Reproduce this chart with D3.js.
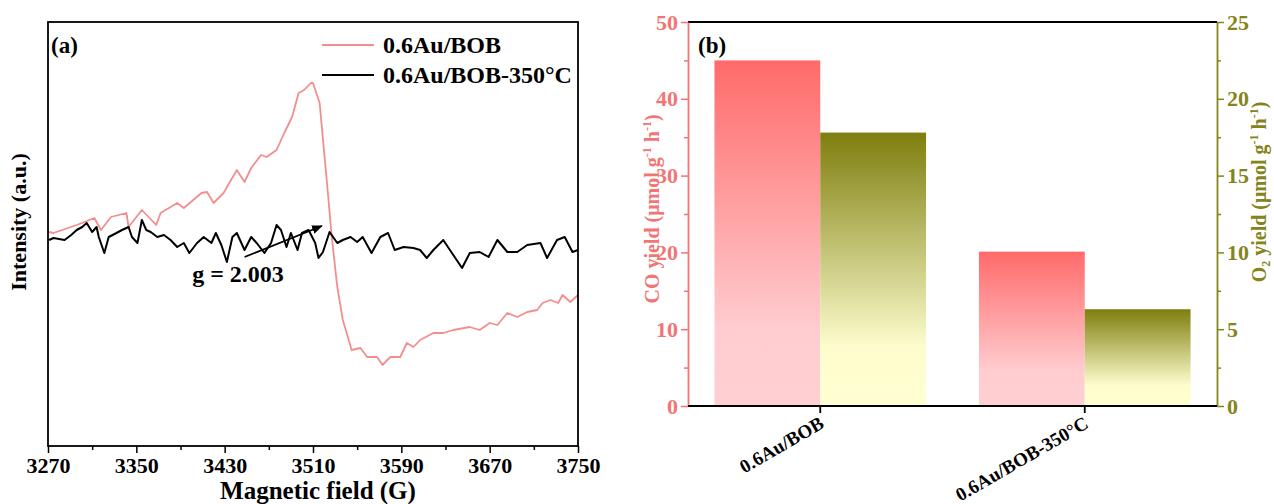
<!DOCTYPE html>
<html>
<head>
<meta charset="utf-8">
<script src="https://cdn.jsdelivr.net/npm/d3@7"></script>
<style>
  html, body { margin: 0; padding: 0; background: #fff; }
  svg text { font-family: "Liberation Serif", "Times New Roman", serif; font-weight: bold; }
</style>
</head>
<body>
<svg id="chart" width="1274" height="504"></svg>
<script>
// ---------------- Data: panel (a) EPR spectra ----------------
const fieldTicks = [3270, 3350, 3430, 3510, 3590, 3670, 3750];
const seriesNamesA = ["0.6Au/BOB", "0.6Au/BOB-350°C"];

const bobField = [3271, 3275, 3296, 3312, 3318, 3327, 3341, 3343, 3355, 3368, 3372, 3387, 3393, 3409, 3414, 3420,
  3429, 3441, 3448, 3454, 3463, 3468, 3477, 3484, 3491, 3497, 3502, 3508, 3510, 3516, 3523, 3527, 3532, 3537,
  3545, 3553, 3559, 3568, 3573, 3580, 3589, 3595, 3601, 3607, 3619, 3628, 3637, 3652, 3661, 3670, 3677, 3686,
  3695, 3704, 3713, 3718, 3725, 3732, 3736, 3743, 3750];
const bobIntensity = [4, 3, 11, 18, 6, 19, 23, 9, 26, 11, 23, 33, 28, 43, 44, 33,
  43, 66, 54, 68, 81, 79, 86, 103, 119, 143, 146, 153, 153, 133, 49, -1, -51, -84,
  -114, -112, -121, -121, -129, -121, -121, -107, -111, -104, -97, -97, -94, -91, -94, -87, -89, -77,
  -81, -76, -74, -67, -64, -67, -59, -66, -59];

const bob350Field = [3271, 3275, 3285, 3291, 3296, 3301, 3305, 3310, 3314, 3316, 3321, 3325, 3332, 3337, 3343,
  3346, 3351, 3355, 3359, 3363, 3369, 3375, 3381, 3387, 3393, 3398, 3405, 3411, 3418, 3422, 3427, 3432, 3437,
  3441, 3448, 3454, 3459, 3466, 3472, 3477, 3481, 3486, 3490, 3496, 3500, 3506, 3512, 3515, 3519, 3525, 3532,
  3537, 3544, 3550, 3555, 3563, 3571, 3578, 3584, 3592, 3601, 3607, 3613, 3619, 3628, 3634, 3645, 3652, 3661,
  3669, 3677, 3686, 3695, 3704, 3716, 3722, 3731, 3738, 3745, 3750];
const bob350Intensity = [-4, -2, -4, 1, 6, 9, 13, 4, 9, -1, -17, -1, 3, 6, 9,
  -1, -7, 16, 6, 4, -1, 1, -4, -11, -7, -17, -7, -1, -7, 3, -9, -26, -1,
  3, -14, -1, -7, -17, -7, 11, 6, -11, 3, -14, 3, 6, -7, -22, -16, 4, -7,
  -4, -1, -6, -1, -17, -1, 3, -14, -11, -12, -14, -22, -14, -4, -14, -32, -17, -16,
  -21, -4, -16, -16, -9, -7, -22, -4, -1, -16, -14];

// ---------------- Data: panel (b) yields ----------------
const categories = ["0.6Au/BOB", "0.6Au/BOB-350°C"];
const coYield = [45.0, 20.1];
const o2Yield = [17.8, 6.3];
const coTicks = [0, 10, 20, 30, 40, 50];
const o2Ticks = [0, 5, 10, 15, 20, 25];

// ---------------- Style ----------------
const pinkLine = "#f28e8e";
const pinkAxis = "#f27575";
const olive = "#84841a";

const svg = d3.select("#chart");
const defs = svg.append("defs");

// ================= Panel (a) =================
const A = { left: 48, right: 578, top: 22, bottom: 446 };
const xA = d3.scaleLinear().domain([3270, 3750]).range([A.left, A.right]);
const yA = d3.scaleLinear().domain([-210, 214]).range([A.bottom, A.top]);

const gA = svg.append("g");

const lineGen = d3.line().x(d => xA(d[0])).y(d => yA(d[1]));
const bobData = bobField.map((f, i) => [f, bobIntensity[i]]);
const bob350Data = bob350Field.map((f, i) => [f, bob350Intensity[i]]);

gA.append("path").datum(bobData).attr("d", lineGen)
  .attr("fill", "none").attr("stroke", pinkLine).attr("stroke-width", 1.8).attr("stroke-linejoin", "round");
gA.append("path").datum(bob350Data).attr("d", lineGen)
  .attr("fill", "none").attr("stroke", "#000").attr("stroke-width", 2).attr("stroke-linejoin", "round");

// frame
gA.append("rect").attr("x", A.left).attr("y", A.top)
  .attr("width", A.right - A.left).attr("height", A.bottom - A.top)
  .attr("fill", "none").attr("stroke", "#000").attr("stroke-width", 1.8);

const boldText = (size) => g => g.selectAll("text").attr("font-size", size)
  .attr("font-family", "Liberation Serif").attr("font-weight", "bold");

// x axis minor ticks
const minorA = d3.range(3310, 3750, 80);
gA.append("g").attr("transform", `translate(0,${A.bottom})`)
  .call(d3.axisBottom(xA).tickValues(minorA).tickSize(4).tickFormat(""))
  .call(g => g.select(".domain").remove())
  .call(g => g.selectAll("line").attr("stroke-width", 1.5));
// x axis major
gA.append("g").attr("transform", `translate(0,${A.bottom})`)
  .call(d3.axisBottom(xA).tickValues(fieldTicks).tickSize(7).tickPadding(4).tickFormat(d3.format("d")))
  .call(g => g.select(".domain").remove())
  .call(g => g.selectAll("line").attr("stroke-width", 1.5))
  .call(boldText(22))
  .call(g => g.selectAll("text").attr("fill", "#000"));

gA.append("text").attr("x", (A.left + A.right) / 2 + 5).attr("y", 499)
  .attr("text-anchor", "middle").attr("font-size", 25).text("Magnetic field (G)");

gA.append("text").attr("transform", `translate(26,${222}) rotate(-90)`)
  .attr("text-anchor", "middle").attr("font-size", 22).text("Intensity (a.u.)");

gA.append("text").attr("x", 51).attr("y", 53).attr("font-size", 23).text("(a)");

// legend
const legA = gA.append("g");
[[pinkLine, 1.8, 45], ["#000", 2, 75]].forEach((s, i) => {
  legA.append("line").attr("x1", 322).attr("x2", 374).attr("y1", s[2]).attr("y2", s[2])
    .attr("stroke", s[0]).attr("stroke-width", s[1]);
  legA.append("text").attr("x", 383).attr("y", s[2] + 8).attr("font-size", 24).text(seriesNamesA[i]);
});

// annotation
defs.append("marker").attr("id", "arrow").attr("viewBox", "0 0 10 10").attr("refX", 9).attr("refY", 5)
  .attr("markerWidth", 6).attr("markerHeight", 6).attr("orient", "auto")
  .append("path").attr("d", "M0,1 L10,5 L0,9 Z").attr("fill", "#000");
gA.append("line").attr("x1", xA(3448)).attr("y1", yA(-21)).attr("x2", xA(3518)).attr("y2", yA(10))
  .attr("stroke", "#000").attr("stroke-width", 1.8).attr("marker-end", "url(#arrow)");
gA.append("text").attr("x", 238).attr("y", 282).attr("text-anchor", "middle").attr("font-size", 24).text("g = 2.003");

// ================= Panel (b) =================
const B = { left: 688, right: 1217, top: 22, bottom: 406 };
const x0 = d3.scaleBand().domain(categories).range([B.left, B.right]).padding(0);
const x1 = d3.scaleBand().domain(["CO", "O2"]).range([0, x0.bandwidth()]).paddingInner(0).paddingOuter(0.25);
const yCO = d3.scaleLinear().domain([0, 50]).range([B.bottom, B.top]);
const yO2 = d3.scaleLinear().domain([0, 25]).range([B.bottom, B.top]);

const gradCO = defs.append("linearGradient").attr("id", "gradCO").attr("x1", 0).attr("y1", 0).attr("x2", 0).attr("y2", 1);
gradCO.append("stop").attr("offset", "0%").attr("stop-color", "#ff6a6a");
gradCO.append("stop").attr("offset", "78%").attr("stop-color", "#ffcdd0");
gradCO.append("stop").attr("offset", "100%").attr("stop-color", "#ffcfd2");
const gradO2 = defs.append("linearGradient").attr("id", "gradO2").attr("x1", 0).attr("y1", 0).attr("x2", 0).attr("y2", 1);
gradO2.append("stop").attr("offset", "0%").attr("stop-color", "#7e7e0e");
gradO2.append("stop").attr("offset", "78%").attr("stop-color", "#fcfccc");
gradO2.append("stop").attr("offset", "100%").attr("stop-color", "#ffffd2");

const gB = svg.append("g");
categories.forEach((c, i) => {
  gB.append("rect").attr("x", x0(c) + x1("CO")).attr("width", x1.bandwidth())
    .attr("y", yCO(coYield[i])).attr("height", yCO(0) - yCO(coYield[i])).attr("fill", "url(#gradCO)");
  gB.append("rect").attr("x", x0(c) + x1("O2")).attr("width", x1.bandwidth())
    .attr("y", yO2(o2Yield[i])).attr("height", yO2(0) - yO2(o2Yield[i])).attr("fill", "url(#gradO2)");
});

// top border
gB.append("line").attr("x1", B.left).attr("x2", B.right).attr("y1", B.top).attr("y2", B.top)
  .attr("stroke", "#000").attr("stroke-width", 1.8);

// left axis (CO)
gB.append("g").attr("transform", `translate(${B.left},0)`)
  .call(d3.axisLeft(yCO).tickValues(d3.range(5, 50, 10)).tickSize(4).tickFormat(""))
  .call(g => g.select(".domain").remove())
  .call(g => g.selectAll("line").attr("stroke", pinkAxis).attr("stroke-width", 1.5));
gB.append("g").attr("transform", `translate(${B.left},0)`)
  .call(d3.axisLeft(yCO).tickValues(coTicks).tickSize(7).tickSizeOuter(0).tickPadding(3))
  .call(g => g.select(".domain").attr("stroke", pinkAxis).attr("stroke-width", 1.8))
  .call(g => g.selectAll("line").attr("stroke", pinkAxis).attr("stroke-width", 1.5))
  .call(boldText(22))
  .call(g => g.selectAll("text").attr("fill", pinkAxis));

// right axis (O2)
gB.append("g").attr("transform", `translate(${B.right},0)`)
  .call(d3.axisRight(yO2).tickValues(d3.range(2.5, 25, 5)).tickSize(4).tickFormat(""))
  .call(g => g.select(".domain").remove())
  .call(g => g.selectAll("line").attr("stroke", olive).attr("stroke-width", 1.5));
gB.append("g").attr("transform", `translate(${B.right},0)`)
  .call(d3.axisRight(yO2).tickValues(o2Ticks).tickSize(7).tickSizeOuter(0).tickPadding(3))
  .call(g => g.select(".domain").attr("stroke", olive).attr("stroke-width", 1.8))
  .call(g => g.selectAll("line").attr("stroke", olive).attr("stroke-width", 1.5))
  .call(boldText(22))
  .call(g => g.selectAll("text").attr("fill", olive));

// bottom axis
gB.append("g").attr("transform", `translate(0,${B.bottom})`)
  .call(d3.axisBottom(x0).tickSize(7).tickSizeOuter(0))
  .call(g => g.select(".domain").attr("stroke", "#000").attr("stroke-width", 1.8).attr("d", `M${B.left},0H${B.right}`))
  .call(g => g.selectAll("line").attr("stroke", "#000").attr("stroke-width", 1.8))
  .call(boldText(19))
  .call(g => g.selectAll("text").attr("text-anchor", "end")
    .attr("transform", "translate(5,21) rotate(-30)").attr("dy", 0).attr("y", 0).attr("x", 0));

// axis titles with superscripts/subscripts
const coTitle = gB.append("text").attr("transform", `translate(659,${209}) rotate(-90)`)
  .attr("text-anchor", "middle").attr("font-size", 20).attr("fill", pinkAxis);
coTitle.append("tspan").text("CO yield (μmol g");
coTitle.append("tspan").attr("dy", -8).attr("font-size", 12).text("-1");
coTitle.append("tspan").attr("dy", 8).text(" h");
coTitle.append("tspan").attr("dy", -8).attr("font-size", 12).text("-1");
coTitle.append("tspan").attr("dy", 8).text(")");

const o2Title = gB.append("text").attr("transform", `translate(1266,${192}) rotate(-90)`)
  .attr("text-anchor", "middle").attr("font-size", 20).attr("fill", olive);
o2Title.append("tspan").text("O");
o2Title.append("tspan").attr("dy", 4).attr("font-size", 12).text("2");
o2Title.append("tspan").attr("dy", -4).text(" yield (μmol g");
o2Title.append("tspan").attr("dy", -8).attr("font-size", 12).text("-1");
o2Title.append("tspan").attr("dy", 8).text(" h");
o2Title.append("tspan").attr("dy", -8).attr("font-size", 12).text("-1");
o2Title.append("tspan").attr("dy", 8).text(")");

gB.append("text").attr("x", 698).attr("y", 53).attr("font-size", 23).text("(b)");
</script>
</body>
</html>
